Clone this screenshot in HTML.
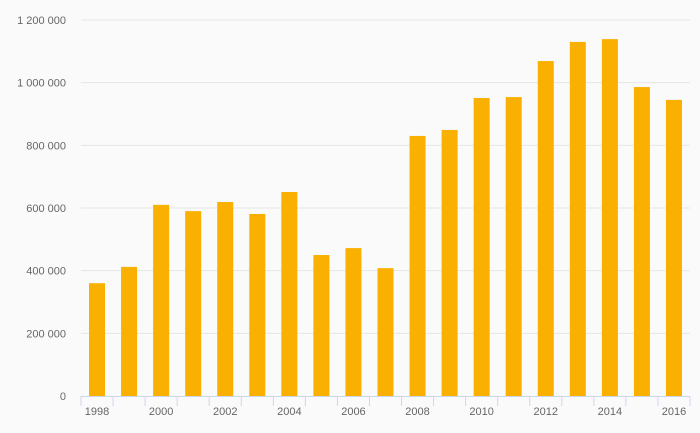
<!DOCTYPE html>
<html><head><meta charset="utf-8"><style>
body{margin:0;background:#fafafa;}
svg{display:block;font-family:"Liberation Sans",sans-serif;}
</style></head><body>
<svg id="chart" width="700" height="433">
<rect width="700" height="433" fill="#fafafa"/>
<g id="grid"></g><g id="bars"></g><g id="xaxis"></g><g id="yaxis"></g>
</svg>
<script>
const categories=[1998,1999,2000,2001,2002,2003,2004,2005,2006,2007,2008,2009,2010,2011,2012,2013,2014,2015,2016];
const values=[360000,412000,610000,590000,619000,581000,651000,450000,472000,408000,830000,849000,951000,954000,1069000,1130000,1139000,986000,945000];
const yTicks=[0,200000,400000,600000,800000,1000000,1200000];
const yTickLabels=["0","200 000","400 000","600 000","800 000","1 000 000","1 200 000"];
const NS="http://www.w3.org/2000/svg";
const x0=81,x1=690,yBase=396,yTop=20,yMax=1200000;
const band=(x1-x0)/categories.length;
const y=v=>yBase-(v/yMax)*(yBase-yTop);
const xc=i=>x0+band*(i+0.5);
function mk(t,a,p){const e=document.createElementNS(NS,t);for(const k in a)e.setAttribute(k,a[k]);p.appendChild(e);return e;}
const grid=document.getElementById('grid'),yaxis=document.getElementById('yaxis');
yTicks.forEach((t,i)=>{
 if(i>0){const l=mk('line',{x1:x0,x2:x1,y1:y(t),y2:y(t),stroke:'#e6e6e6','stroke-width':1},grid);
 
 }
 const tx=mk('text',{x:66,y:y(t)+4,'text-anchor':'end','font-size':11,fill:'#666'},yaxis);
 tx.textContent=yTickLabels[i];
 
 
});
const bars=document.getElementById('bars');
const bw=16;
values.forEach((v,i)=>{
 const r=mk('rect',{x:xc(i)-bw/2,y:y(v),width:bw,height:yBase-y(v),fill:'#f9b000'},bars);
 
 
});
const xa=document.getElementById('xaxis');
const al=mk('line',{x1:x0,x2:x1,y1:yBase+0.5,y2:yBase+0.5,stroke:'#ccd6eb'},xa);


for(let i=0;i<=categories.length;i++){
 const tk=mk('line',{x1:x0+band*i,x2:x0+band*i,y1:yBase,y2:yBase+10,stroke:'#ccd6eb'},xa);
 
 
}
categories.forEach((c,i)=>{
 if(i%2)return;
 const t=mk('text',{x:xc(i),y:415,'text-anchor':'middle','font-size':11,fill:'#666'},xa);
 t.textContent=c;
 
 
});
</script>
</body></html>
